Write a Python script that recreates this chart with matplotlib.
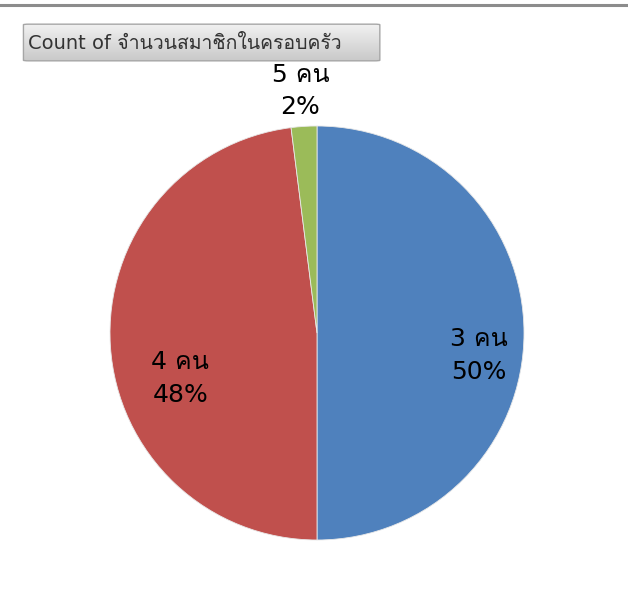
import matplotlib
matplotlib.use('Agg')
import matplotlib.pyplot as plt
import numpy as np
from matplotlib import font_manager
from matplotlib.ft2font import FT2Font
from matplotlib.patches import FancyBboxPatch
from matplotlib.lines import Line2D

categories = ['3 คน', '4 คน', '5 คน']
counts = [25, 24, 1]
colors = ['#4F81BD', '#C0504D', '#9BBB59']
title = 'Count of จำนวนสมาชิกในครอบครัว'


def find_thai_font():
    for f in font_manager.fontManager.ttflist:
        try:
            font = FT2Font(f.fname)
            if font.get_char_index(ord('ค')):
                return f.name
        except Exception:
            pass
    return None


thai = find_thai_font()
families = ['DejaVu Sans'] + ([thai] if thai else [])
plt.rcParams['font.family'] = families

W, H = 628, 598
fig = plt.figure(figsize=(W / 100, H / 100), dpi=100)

# pie axes: centre (317, 333), radius 207 px
cx, cy, r = 317, 333, 207
ax = fig.add_axes([(cx - r) / W, 1 - (cy + r) / H, 2 * r / W, 2 * r / H])

total = sum(counts)
labels = ['%s\n%d%%' % (c, round(v * 100.0 / total)) for c, v in zip(categories, counts)]

wedges, texts = ax.pie(counts, colors=colors, startangle=90, counterclock=False,
                       labels=labels, labeldistance=0.75,
                       wedgeprops={'edgecolor': '#e8e8e8', 'linewidth': 0.6},
                       textprops={'fontsize': 18, 'color': 'black', 'ha': 'center',
                                  'va': 'center', 'linespacing': 1.45})
# label positions in pie-radius units (Excel's placement)
label_pos = [(0.78, -0.11), (-0.66, -0.22), (-0.08, 1.17)]
for t, p in zip(texts, label_pos):
    t.set_position(p)
    t.set_horizontalalignment('center')
ax.set_xlim(-1, 1)
ax.set_ylim(-1, 1)
ax.axis('off')

# top border line
fig.add_artist(Line2D([0, 1], [1 - 4.5 / H, 1 - 4.5 / H], color='#8c8c8c', lw=2.2))

# title button
bx = fig.add_axes([22 / W, 1 - 62 / H, 360 / W, 39 / H])
bx.set_xlim(0, 1)
bx.set_ylim(0, 1)
bx.axis('off')
grad = np.linspace(0, 1, 64).reshape(-1, 1)
img = bx.imshow(grad, cmap=matplotlib.colors.LinearSegmentedColormap.from_list('g', ['#c8c8c8', '#f2f2f2']),
                extent=[0, 1, 0, 1], aspect='auto', origin='lower')
box = FancyBboxPatch((0.004, 0.03), 0.99, 0.94, boxstyle='round,pad=0,rounding_size=0.015',
                     transform=bx.transAxes, facecolor='none', edgecolor='#a6a6a6', lw=1)
bx.add_patch(box)
img.set_clip_path(box)
bx.text(0.016, 0.47, title, fontsize=14, color='#333333', va='center', ha='left')

fig.savefig('out.png', dpi=100)
